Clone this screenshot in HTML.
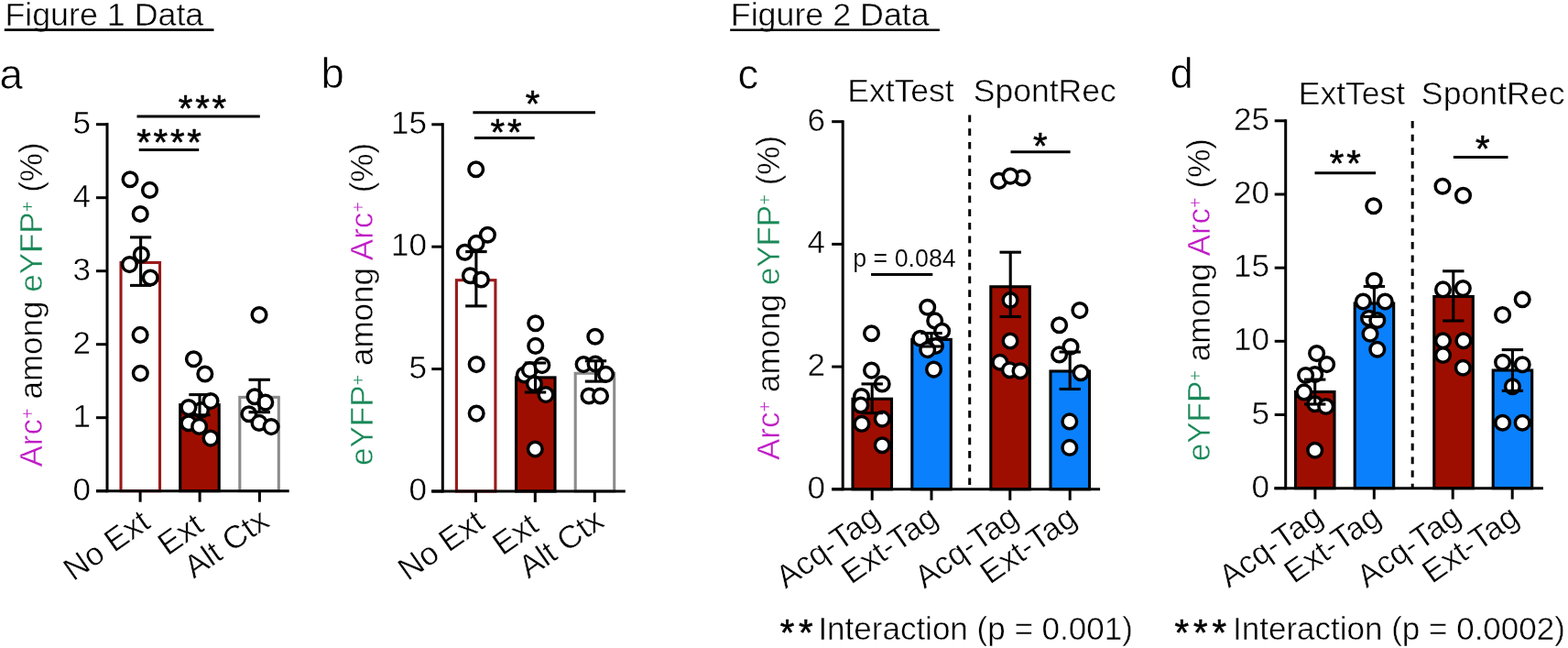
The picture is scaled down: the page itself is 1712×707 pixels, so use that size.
<!DOCTYPE html>
<html><head><meta charset="utf-8"><title>Figure data</title>
<style>
html,body{margin:0;padding:0;background:#fff;}
body{width:1712px;height:707px;overflow:hidden;}
svg{display:block;font-family:'Liberation Sans', Arial, Helvetica, sans-serif;}
text.t{stroke:#fff;stroke-width:0.45px;}
text.t2{stroke:#fff;stroke-width:0.6px;}
text.t3{stroke:#fff;stroke-width:0.15px;}
</style></head><body>
<svg width="1712" height="707" viewBox="0 0 1712 707">
<rect width="1712" height="707" fill="#fff"/>
<text class="t" x="5.4" y="28.3" font-size="35.8" text-anchor="start" fill="#000" >Figure 1 Data</text>
<line x1="4.8" y1="32.6" x2="233.5" y2="32.6" stroke="#000" stroke-width="2.6" />
<text class="t" x="797.8" y="28.3" font-size="35.8" text-anchor="start" fill="#000" >Figure 2 Data</text>
<line x1="797.2" y1="32.7" x2="1025.9" y2="32.7" stroke="#000" stroke-width="2.6" />
<text class="t2" x="-0.4" y="96.8" font-size="45.5" text-anchor="start" fill="#000" >a</text>
<text class="t2" x="350.5" y="96.2" font-size="45.5" text-anchor="start" fill="#000" >b</text>
<text class="t2" x="805.4" y="96.5" font-size="45.5" text-anchor="start" fill="#000" >c</text>
<text class="t2" x="1277.6" y="96.4" font-size="45.5" text-anchor="start" fill="#000" >d</text>
<line x1="117.0" y1="134.0" x2="117.0" y2="537.2" stroke="#000" stroke-width="3" />
<line x1="105.0" y1="535.7" x2="117.0" y2="535.7" stroke="#000" stroke-width="3" />
<text class="t" x="99.0" y="545.7" font-size="35" text-anchor="end" fill="#000" >0</text>
<line x1="105.0" y1="455.7" x2="117.0" y2="455.7" stroke="#000" stroke-width="3" />
<text class="t" x="99.0" y="465.7" font-size="35" text-anchor="end" fill="#000" >1</text>
<line x1="105.0" y1="375.7" x2="117.0" y2="375.7" stroke="#000" stroke-width="3" />
<text class="t" x="99.0" y="385.7" font-size="35" text-anchor="end" fill="#000" >2</text>
<line x1="105.0" y1="295.7" x2="117.0" y2="295.7" stroke="#000" stroke-width="3" />
<text class="t" x="99.0" y="305.7" font-size="35" text-anchor="end" fill="#000" >3</text>
<line x1="105.0" y1="215.7" x2="117.0" y2="215.7" stroke="#000" stroke-width="3" />
<text class="t" x="99.0" y="225.7" font-size="35" text-anchor="end" fill="#000" >4</text>
<line x1="105.0" y1="135.7" x2="117.0" y2="135.7" stroke="#000" stroke-width="3" />
<text class="t" x="99.0" y="145.7" font-size="35" text-anchor="end" fill="#000" >5</text>
<rect x="132.0" y="286.5" width="42.5" height="249.2" fill="#fff" stroke="#9a1a1a" stroke-width="3.1"/>
<rect x="196.7" y="441.7" width="42.5" height="94.0" fill="#9e0e00" stroke="#000" stroke-width="3.1"/>
<rect x="261.8" y="433.4" width="42.5" height="102.3" fill="#fff" stroke="#8c8c8c" stroke-width="3.1"/>
<line x1="105.0" y1="535.7" x2="315.7" y2="535.7" stroke="#000" stroke-width="3" />
<line x1="153.1" y1="535.7" x2="153.1" y2="547.7" stroke="#000" stroke-width="3" />
<line x1="218.1" y1="535.7" x2="218.1" y2="547.7" stroke="#000" stroke-width="3" />
<line x1="283.4" y1="535.7" x2="283.4" y2="547.7" stroke="#000" stroke-width="3" />
<circle cx="142.0" cy="195.8" r="7.8" fill="#fff" stroke="#000" stroke-width="3.5"/>
<circle cx="163.5" cy="207.4" r="7.8" fill="#fff" stroke="#000" stroke-width="3.5"/>
<circle cx="153.2" cy="233.5" r="7.8" fill="#fff" stroke="#000" stroke-width="3.5"/>
<circle cx="154.3" cy="277.7" r="7.8" fill="#fff" stroke="#000" stroke-width="3.5"/>
<circle cx="141.4" cy="288.6" r="7.8" fill="#fff" stroke="#000" stroke-width="3.5"/>
<circle cx="164.2" cy="303" r="7.8" fill="#fff" stroke="#000" stroke-width="3.5"/>
<circle cx="153.1" cy="365.4" r="7.8" fill="#fff" stroke="#000" stroke-width="3.5"/>
<circle cx="153.3" cy="407.2" r="7.8" fill="#fff" stroke="#000" stroke-width="3.5"/>
<circle cx="219.5" cy="447.5" r="7.8" fill="#fff" stroke="#000" stroke-width="3.5"/>
<circle cx="211.4" cy="391.7" r="7.8" fill="#fff" stroke="#000" stroke-width="3.5"/>
<circle cx="223.8" cy="408" r="7.8" fill="#fff" stroke="#000" stroke-width="3.5"/>
<circle cx="230" cy="437.6" r="7.8" fill="#fff" stroke="#000" stroke-width="3.5"/>
<circle cx="205.9" cy="444.6" r="7.8" fill="#fff" stroke="#000" stroke-width="3.5"/>
<circle cx="205.9" cy="461.8" r="7.8" fill="#fff" stroke="#000" stroke-width="3.5"/>
<circle cx="217.6" cy="465.4" r="7.8" fill="#fff" stroke="#000" stroke-width="3.5"/>
<circle cx="230" cy="478.1" r="7.8" fill="#fff" stroke="#000" stroke-width="3.5"/>
<circle cx="283" cy="343.6" r="7.8" fill="#fff" stroke="#000" stroke-width="3.5"/>
<circle cx="278.1" cy="432.8" r="7.8" fill="#fff" stroke="#000" stroke-width="3.5"/>
<circle cx="289.8" cy="439.1" r="7.8" fill="#fff" stroke="#000" stroke-width="3.5"/>
<circle cx="271.8" cy="451.8" r="7.8" fill="#fff" stroke="#000" stroke-width="3.5"/>
<circle cx="283" cy="461.4" r="7.8" fill="#fff" stroke="#000" stroke-width="3.5"/>
<circle cx="296.1" cy="465.6" r="7.8" fill="#fff" stroke="#000" stroke-width="3.5"/>
<line x1="153.6" y1="258.9" x2="153.6" y2="311.4" stroke="#000" stroke-width="3.1" />
<line x1="142.0" y1="258.9" x2="165.2" y2="258.9" stroke="#000" stroke-width="3.1" />
<line x1="142.0" y1="311.4" x2="165.2" y2="311.4" stroke="#000" stroke-width="3.1" />
<line x1="218.0" y1="430.6" x2="218.0" y2="452.8" stroke="#000" stroke-width="3.1" />
<line x1="206.3" y1="430.6" x2="229.7" y2="430.6" stroke="#000" stroke-width="3.1" />
<line x1="206.3" y1="452.8" x2="229.7" y2="452.8" stroke="#000" stroke-width="3.1" />
<line x1="283.2" y1="414.3" x2="283.2" y2="449.7" stroke="#000" stroke-width="3.1" />
<line x1="271.5" y1="414.3" x2="294.9" y2="414.3" stroke="#000" stroke-width="3.1" />
<line x1="271.5" y1="449.7" x2="294.9" y2="449.7" stroke="#000" stroke-width="3.1" />
<line x1="149.5" y1="127.0" x2="283.8" y2="127.0" stroke="#000" stroke-width="3" />
<text x="222.4" y="132.1" font-size="40" text-anchor="middle" letter-spacing="2.8" stroke="#000" stroke-width="0.6" stroke-linejoin="round">***</text>
<line x1="151.7" y1="163.4" x2="217.2" y2="163.4" stroke="#000" stroke-width="3" />
<text x="185.9" y="169.2" font-size="40" text-anchor="middle" letter-spacing="2.8" stroke="#000" stroke-width="0.6" stroke-linejoin="round">****</text>
<text class="t" transform="translate(46.4,509.5) rotate(-90)" font-size="35"><tspan fill="#bf1cc6">Arc</tspan><tspan fill="#bf1cc6" font-size="20" dy="-9.3">+</tspan><tspan dy="9.3"> </tspan><tspan fill="#000">among </tspan><tspan fill="#1a8858">eYFP</tspan><tspan fill="#1a8858" font-size="20" dy="-9.3">+</tspan><tspan dy="9.3"> </tspan><tspan fill="#000">(%)</tspan></text>
<text class="t" transform="translate(166,574.5) rotate(-35)" font-size="35" text-anchor="end">No Ext</text>
<text class="t" transform="translate(224.5,578) rotate(-35)" font-size="35" text-anchor="end">Ext</text>
<text class="t" transform="translate(296,573) rotate(-35)" font-size="35" text-anchor="end">Alt Ctx</text>
<line x1="483.3" y1="134.3" x2="483.3" y2="537.5" stroke="#000" stroke-width="3" />
<line x1="471.3" y1="536.0" x2="483.3" y2="536.0" stroke="#000" stroke-width="3" />
<text class="t" x="466.0" y="546.0" font-size="35" text-anchor="end" fill="#000" >0</text>
<line x1="471.3" y1="402.6" x2="483.3" y2="402.6" stroke="#000" stroke-width="3" />
<text class="t" x="466.0" y="412.6" font-size="35" text-anchor="end" fill="#000" >5</text>
<line x1="471.3" y1="269.2" x2="483.3" y2="269.2" stroke="#000" stroke-width="3" />
<text class="t" x="466.0" y="279.2" font-size="35" text-anchor="end" fill="#000" >10</text>
<line x1="471.3" y1="135.8" x2="483.3" y2="135.8" stroke="#000" stroke-width="3" />
<text class="t" x="466.0" y="145.8" font-size="35" text-anchor="end" fill="#000" >15</text>
<rect x="498.4" y="305.7" width="42.5" height="230.3" fill="#fff" stroke="#9a1a1a" stroke-width="3.1"/>
<rect x="563.5" y="411.9" width="42.5" height="124.1" fill="#9e0e00" stroke="#000" stroke-width="3.1"/>
<rect x="628.2" y="407.3" width="42.5" height="128.7" fill="#fff" stroke="#8c8c8c" stroke-width="3.1"/>
<line x1="471.1" y1="536.0" x2="682.8" y2="536.0" stroke="#000" stroke-width="3" />
<line x1="519.5" y1="536.0" x2="519.5" y2="548.0" stroke="#000" stroke-width="3" />
<line x1="584.3" y1="536.0" x2="584.3" y2="548.0" stroke="#000" stroke-width="3" />
<line x1="649.3" y1="536.0" x2="649.3" y2="548.0" stroke="#000" stroke-width="3" />
<circle cx="519.7" cy="184.8" r="7.8" fill="#fff" stroke="#000" stroke-width="3.5"/>
<circle cx="532.4" cy="256.2" r="7.8" fill="#fff" stroke="#000" stroke-width="3.5"/>
<circle cx="520.1" cy="265.4" r="7.8" fill="#fff" stroke="#000" stroke-width="3.5"/>
<circle cx="507.4" cy="275.3" r="7.8" fill="#fff" stroke="#000" stroke-width="3.5"/>
<circle cx="513.4" cy="300.7" r="7.8" fill="#fff" stroke="#000" stroke-width="3.5"/>
<circle cx="525.4" cy="305" r="7.8" fill="#fff" stroke="#000" stroke-width="3.5"/>
<circle cx="520.2" cy="397.6" r="7.8" fill="#fff" stroke="#000" stroke-width="3.5"/>
<circle cx="520.2" cy="451.1" r="7.8" fill="#fff" stroke="#000" stroke-width="3.5"/>
<circle cx="584.7" cy="352.7" r="7.8" fill="#fff" stroke="#000" stroke-width="3.5"/>
<circle cx="584.7" cy="377.4" r="7.8" fill="#fff" stroke="#000" stroke-width="3.5"/>
<circle cx="572.3" cy="409" r="7.8" fill="#fff" stroke="#000" stroke-width="3.5"/>
<circle cx="578.4" cy="403.6" r="7.8" fill="#fff" stroke="#000" stroke-width="3.5"/>
<circle cx="591.8" cy="398.6" r="7.8" fill="#fff" stroke="#000" stroke-width="3.5"/>
<circle cx="583.4" cy="418.8" r="7.8" fill="#fff" stroke="#000" stroke-width="3.5"/>
<circle cx="596" cy="430.6" r="7.8" fill="#fff" stroke="#000" stroke-width="3.5"/>
<circle cx="584.3" cy="490" r="7.8" fill="#fff" stroke="#000" stroke-width="3.5"/>
<circle cx="649.8" cy="367.3" r="7.8" fill="#fff" stroke="#000" stroke-width="3.5"/>
<circle cx="637.1" cy="397.6" r="7.8" fill="#fff" stroke="#000" stroke-width="3.5"/>
<circle cx="650" cy="397" r="7.8" fill="#fff" stroke="#000" stroke-width="3.5"/>
<circle cx="661.5" cy="408.4" r="7.8" fill="#fff" stroke="#000" stroke-width="3.5"/>
<circle cx="643" cy="432" r="7.8" fill="#fff" stroke="#000" stroke-width="3.5"/>
<circle cx="655.5" cy="432" r="7.8" fill="#fff" stroke="#000" stroke-width="3.5"/>
<line x1="519.9" y1="274.6" x2="519.9" y2="333.9" stroke="#000" stroke-width="3.1" />
<line x1="508.2" y1="274.6" x2="531.6" y2="274.6" stroke="#000" stroke-width="3.1" />
<line x1="508.2" y1="333.9" x2="531.6" y2="333.9" stroke="#000" stroke-width="3.1" />
<line x1="584.5" y1="396.0" x2="584.5" y2="428.0" stroke="#000" stroke-width="3.1" />
<line x1="572.8" y1="396.0" x2="596.2" y2="396.0" stroke="#000" stroke-width="3.1" />
<line x1="572.8" y1="428.0" x2="596.2" y2="428.0" stroke="#000" stroke-width="3.1" />
<line x1="650.5" y1="393.8" x2="650.5" y2="416.1" stroke="#000" stroke-width="3.1" />
<line x1="638.8" y1="393.8" x2="662.2" y2="393.8" stroke="#000" stroke-width="3.1" />
<line x1="638.8" y1="416.1" x2="662.2" y2="416.1" stroke="#000" stroke-width="3.1" />
<line x1="516.4" y1="122.7" x2="650.0" y2="122.7" stroke="#000" stroke-width="3" />
<text x="582.9" y="127.0" font-size="40" text-anchor="middle" letter-spacing="2.8" stroke="#000" stroke-width="0.6" stroke-linejoin="round">*</text>
<line x1="517.9" y1="150.4" x2="583.7" y2="150.4" stroke="#000" stroke-width="3" />
<text x="553.9" y="158.4" font-size="40" text-anchor="middle" letter-spacing="2.8" stroke="#000" stroke-width="0.6" stroke-linejoin="round">**</text>
<text class="t" transform="translate(406.9,508.0) rotate(-90)" font-size="35"><tspan fill="#1a8858">eYFP</tspan><tspan fill="#1a8858" font-size="20" dy="-9.3">+</tspan><tspan dy="9.3"> </tspan><tspan fill="#000">among </tspan><tspan fill="#bf1cc6">Arc</tspan><tspan fill="#bf1cc6" font-size="20" dy="-9.3">+</tspan><tspan dy="9.3"> </tspan><tspan fill="#000">(%)</tspan></text>
<text class="t" transform="translate(531.3,574.3) rotate(-35)" font-size="35" text-anchor="end">No Ext</text>
<text class="t" transform="translate(590,578) rotate(-35)" font-size="35" text-anchor="end">Ext</text>
<text class="t" transform="translate(661.5,573) rotate(-35)" font-size="35" text-anchor="end">Alt Ctx</text>
<line x1="920.2" y1="131.2" x2="920.2" y2="535.3" stroke="#000" stroke-width="3" />
<line x1="908.2" y1="533.8" x2="920.2" y2="533.8" stroke="#000" stroke-width="3" />
<text class="t" x="901.0" y="543.8" font-size="35" text-anchor="end" fill="#000" >0</text>
<line x1="908.2" y1="400.1" x2="920.2" y2="400.1" stroke="#000" stroke-width="3" />
<text class="t" x="901.0" y="410.1" font-size="35" text-anchor="end" fill="#000" >2</text>
<line x1="908.2" y1="266.4" x2="920.2" y2="266.4" stroke="#000" stroke-width="3" />
<text class="t" x="901.0" y="276.4" font-size="35" text-anchor="end" fill="#000" >4</text>
<line x1="908.2" y1="132.7" x2="920.2" y2="132.7" stroke="#000" stroke-width="3" />
<text class="t" x="901.0" y="142.7" font-size="35" text-anchor="end" fill="#000" >6</text>
<rect x="931.0" y="435.2" width="42.5" height="98.6" fill="#9e0e00" stroke="#000" stroke-width="3.1"/>
<rect x="995.8" y="370.4" width="42.5" height="163.4" fill="#0a80fc" stroke="#000" stroke-width="3.1"/>
<rect x="1081.8" y="312.8" width="42.5" height="221.0" fill="#9e0e00" stroke="#000" stroke-width="3.1"/>
<rect x="1147.0" y="405.0" width="42.5" height="128.8" fill="#0a80fc" stroke="#000" stroke-width="3.1"/>
<line x1="908.1" y1="533.8" x2="1201.1" y2="533.8" stroke="#000" stroke-width="3" />
<line x1="952.2" y1="533.8" x2="952.2" y2="545.8" stroke="#000" stroke-width="3" />
<line x1="1017.0" y1="533.8" x2="1017.0" y2="545.8" stroke="#000" stroke-width="3" />
<line x1="1102.8" y1="533.8" x2="1102.8" y2="545.8" stroke="#000" stroke-width="3" />
<line x1="1168.2" y1="533.8" x2="1168.2" y2="545.8" stroke="#000" stroke-width="3" />
<line x1="1058.7" y1="125.6" x2="1058.7" y2="529.5" stroke="#000" stroke-width="3" stroke-dasharray="7.7,6.96"/>
<circle cx="951.5" cy="363.8" r="7.8" fill="#fff" stroke="#000" stroke-width="3.5"/>
<circle cx="951.5" cy="404.1" r="7.8" fill="#fff" stroke="#000" stroke-width="3.5"/>
<circle cx="963.2" cy="418.9" r="7.8" fill="#fff" stroke="#000" stroke-width="3.5"/>
<circle cx="940.5" cy="432.5" r="7.8" fill="#fff" stroke="#000" stroke-width="3.5"/>
<circle cx="939.8" cy="442" r="7.8" fill="#fff" stroke="#000" stroke-width="3.5"/>
<circle cx="940.9" cy="462.4" r="7.8" fill="#fff" stroke="#000" stroke-width="3.5"/>
<circle cx="963.2" cy="457.1" r="7.8" fill="#fff" stroke="#000" stroke-width="3.5"/>
<circle cx="963.2" cy="485.7" r="7.8" fill="#fff" stroke="#000" stroke-width="3.5"/>
<circle cx="1012.7" cy="335.2" r="7.8" fill="#fff" stroke="#000" stroke-width="3.5"/>
<circle cx="1020.7" cy="349.9" r="7.8" fill="#fff" stroke="#000" stroke-width="3.5"/>
<circle cx="1028.6" cy="361.3" r="7.8" fill="#fff" stroke="#000" stroke-width="3.5"/>
<circle cx="1004.8" cy="369.2" r="7.8" fill="#fff" stroke="#000" stroke-width="3.5"/>
<circle cx="1021.5" cy="377.5" r="7.8" fill="#fff" stroke="#000" stroke-width="3.5"/>
<circle cx="1012.7" cy="381.6" r="7.8" fill="#fff" stroke="#000" stroke-width="3.5"/>
<circle cx="1019.5" cy="403.1" r="7.8" fill="#fff" stroke="#000" stroke-width="3.5"/>
<circle cx="1090.6" cy="197.4" r="7.8" fill="#fff" stroke="#000" stroke-width="3.5"/>
<circle cx="1116.1" cy="194" r="7.8" fill="#fff" stroke="#000" stroke-width="3.5"/>
<circle cx="1103.1" cy="192.1" r="7.8" fill="#fff" stroke="#000" stroke-width="3.5"/>
<circle cx="1103" cy="327.5" r="7.8" fill="#fff" stroke="#000" stroke-width="3.5"/>
<circle cx="1103" cy="372" r="7.8" fill="#fff" stroke="#000" stroke-width="3.5"/>
<circle cx="1091.8" cy="395.3" r="7.8" fill="#fff" stroke="#000" stroke-width="3.5"/>
<circle cx="1102.4" cy="403.8" r="7.8" fill="#fff" stroke="#000" stroke-width="3.5"/>
<circle cx="1114" cy="404.8" r="7.8" fill="#fff" stroke="#000" stroke-width="3.5"/>
<circle cx="1178.9" cy="338.6" r="7.8" fill="#fff" stroke="#000" stroke-width="3.5"/>
<circle cx="1156.6" cy="354.7" r="7.8" fill="#fff" stroke="#000" stroke-width="3.5"/>
<circle cx="1169" cy="378.2" r="7.8" fill="#fff" stroke="#000" stroke-width="3.5"/>
<circle cx="1156.6" cy="386.9" r="7.8" fill="#fff" stroke="#000" stroke-width="3.5"/>
<circle cx="1180.1" cy="406.7" r="7.8" fill="#fff" stroke="#000" stroke-width="3.5"/>
<circle cx="1167.8" cy="459.9" r="7.8" fill="#fff" stroke="#000" stroke-width="3.5"/>
<circle cx="1167.8" cy="488.4" r="7.8" fill="#fff" stroke="#000" stroke-width="3.5"/>
<line x1="952.2" y1="418.9" x2="952.2" y2="450.7" stroke="#000" stroke-width="3.1" />
<line x1="940.5" y1="418.9" x2="963.9" y2="418.9" stroke="#000" stroke-width="3.1" />
<line x1="940.5" y1="450.7" x2="963.9" y2="450.7" stroke="#000" stroke-width="3.1" />
<line x1="1017.0" y1="363.5" x2="1017.0" y2="378.0" stroke="#000" stroke-width="3.1" />
<line x1="1005.3" y1="363.5" x2="1028.7" y2="363.5" stroke="#000" stroke-width="3.1" />
<line x1="1005.3" y1="378.0" x2="1028.7" y2="378.0" stroke="#000" stroke-width="3.1" />
<line x1="1103.2" y1="275.2" x2="1103.2" y2="345.5" stroke="#000" stroke-width="3.1" />
<line x1="1091.5" y1="275.2" x2="1114.9" y2="275.2" stroke="#000" stroke-width="3.1" />
<line x1="1091.5" y1="345.5" x2="1114.9" y2="345.5" stroke="#000" stroke-width="3.1" />
<line x1="1168.2" y1="384.0" x2="1168.2" y2="424.5" stroke="#000" stroke-width="3.1" />
<line x1="1156.5" y1="384.0" x2="1179.9" y2="384.0" stroke="#000" stroke-width="3.1" />
<line x1="1156.5" y1="424.5" x2="1179.9" y2="424.5" stroke="#000" stroke-width="3.1" />
<line x1="951.1" y1="299.6" x2="1018.3" y2="299.6" stroke="#000" stroke-width="3" />
<text class="t3" x="931.2" y="290.8" font-size="26.8" text-anchor="start" fill="#000" >p = 0.084</text>
<line x1="1103.5" y1="165.8" x2="1168.6" y2="165.8" stroke="#000" stroke-width="3" />
<text x="1137.1" y="172.9" font-size="40" text-anchor="middle" letter-spacing="2.8" stroke="#000" stroke-width="0.6" stroke-linejoin="round">*</text>
<text class="t" x="983.5" y="110.9" font-size="35.5" text-anchor="middle" fill="#000" >ExtTest</text>
<text class="t" x="1140.8" y="110.9" font-size="35.5" text-anchor="middle" fill="#000" >SpontRec</text>
<text class="t" transform="translate(851.3,502) rotate(-90)" font-size="35"><tspan fill="#bf1cc6">Arc</tspan><tspan fill="#bf1cc6" font-size="20" dy="-9.3">+</tspan><tspan dy="9.3"> </tspan><tspan fill="#000">among </tspan><tspan fill="#1a8858">eYFP</tspan><tspan fill="#1a8858" font-size="20" dy="-9.3">+</tspan><tspan dy="9.3"> </tspan><tspan fill="#000">(%)</tspan></text>
<text class="t" transform="translate(963,569.4) rotate(-35)" font-size="35" text-anchor="end">Acq-Tag</text>
<text class="t" transform="translate(1026.5,570.1) rotate(-35)" font-size="35" text-anchor="end">Ext-Tag</text>
<text class="t" transform="translate(1114.5,569.4) rotate(-35)" font-size="35" text-anchor="end">Acq-Tag</text>
<text class="t" transform="translate(1178,570.1) rotate(-35)" font-size="35" text-anchor="end">Ext-Tag</text>
<text x="871.9" y="704.4" font-size="40" text-anchor="middle" letter-spacing="4.7" stroke="#000" stroke-width="0.6" stroke-linejoin="round">**</text>
<text class="t" x="893.4" y="697.9" font-size="35" text-anchor="start" fill="#000" >Interaction (p = 0.001)</text>
<line x1="1403.7" y1="130.3" x2="1403.7" y2="534.2" stroke="#000" stroke-width="3" />
<line x1="1391.7" y1="532.7" x2="1403.7" y2="532.7" stroke="#000" stroke-width="3" />
<text class="t" x="1386.0" y="542.7" font-size="35" text-anchor="end" fill="#000" >0</text>
<line x1="1391.7" y1="452.5" x2="1403.7" y2="452.5" stroke="#000" stroke-width="3" />
<text class="t" x="1386.0" y="462.5" font-size="35" text-anchor="end" fill="#000" >5</text>
<line x1="1391.7" y1="372.3" x2="1403.7" y2="372.3" stroke="#000" stroke-width="3" />
<text class="t" x="1386.0" y="382.3" font-size="35" text-anchor="end" fill="#000" >10</text>
<line x1="1391.7" y1="292.2" x2="1403.7" y2="292.2" stroke="#000" stroke-width="3" />
<text class="t" x="1386.0" y="302.2" font-size="35" text-anchor="end" fill="#000" >15</text>
<line x1="1391.7" y1="212.0" x2="1403.7" y2="212.0" stroke="#000" stroke-width="3" />
<text class="t" x="1386.0" y="222.0" font-size="35" text-anchor="end" fill="#000" >20</text>
<line x1="1391.7" y1="131.8" x2="1403.7" y2="131.8" stroke="#000" stroke-width="3" />
<text class="t" x="1386.0" y="141.8" font-size="35" text-anchor="end" fill="#000" >25</text>
<rect x="1414.5" y="427.5" width="42.5" height="105.2" fill="#9e0e00" stroke="#000" stroke-width="3.1"/>
<rect x="1479.2" y="331.0" width="42.5" height="201.7" fill="#0a80fc" stroke="#000" stroke-width="3.1"/>
<rect x="1565.8" y="323.5" width="42.5" height="209.2" fill="#9e0e00" stroke="#000" stroke-width="3.1"/>
<rect x="1630.2" y="404.0" width="42.5" height="128.7" fill="#0a80fc" stroke="#000" stroke-width="3.1"/>
<line x1="1391.3" y1="532.7" x2="1684.9" y2="532.7" stroke="#000" stroke-width="3" />
<line x1="1435.9" y1="532.7" x2="1435.9" y2="544.7" stroke="#000" stroke-width="3" />
<line x1="1500.3" y1="532.7" x2="1500.3" y2="544.7" stroke="#000" stroke-width="3" />
<line x1="1586.2" y1="532.7" x2="1586.2" y2="544.7" stroke="#000" stroke-width="3" />
<line x1="1651.2" y1="532.7" x2="1651.2" y2="544.7" stroke="#000" stroke-width="3" />
<line x1="1542.2" y1="132" x2="1542.2" y2="533" stroke="#000" stroke-width="3" stroke-dasharray="7.7,6.96"/>
<circle cx="1437.6" cy="385.6" r="7.8" fill="#fff" stroke="#000" stroke-width="3.5"/>
<circle cx="1448.6" cy="397.6" r="7.8" fill="#fff" stroke="#000" stroke-width="3.5"/>
<circle cx="1435.7" cy="408.6" r="7.8" fill="#fff" stroke="#000" stroke-width="3.5"/>
<circle cx="1425.6" cy="409.5" r="7.8" fill="#fff" stroke="#000" stroke-width="3.5"/>
<circle cx="1423.8" cy="427.9" r="7.8" fill="#fff" stroke="#000" stroke-width="3.5"/>
<circle cx="1435.7" cy="440.8" r="7.8" fill="#fff" stroke="#000" stroke-width="3.5"/>
<circle cx="1447.7" cy="443.5" r="7.8" fill="#fff" stroke="#000" stroke-width="3.5"/>
<circle cx="1435.7" cy="491.3" r="7.8" fill="#fff" stroke="#000" stroke-width="3.5"/>
<circle cx="1499.7" cy="224.8" r="7.8" fill="#fff" stroke="#000" stroke-width="3.5"/>
<circle cx="1500.3" cy="306.3" r="7.8" fill="#fff" stroke="#000" stroke-width="3.5"/>
<circle cx="1488.3" cy="329" r="7.8" fill="#fff" stroke="#000" stroke-width="3.5"/>
<circle cx="1512.3" cy="329" r="7.8" fill="#fff" stroke="#000" stroke-width="3.5"/>
<circle cx="1494.6" cy="347.3" r="7.8" fill="#fff" stroke="#000" stroke-width="3.5"/>
<circle cx="1503.8" cy="349.5" r="7.8" fill="#fff" stroke="#000" stroke-width="3.5"/>
<circle cx="1496" cy="364.3" r="7.8" fill="#fff" stroke="#000" stroke-width="3.5"/>
<circle cx="1503.8" cy="381.3" r="7.8" fill="#fff" stroke="#000" stroke-width="3.5"/>
<circle cx="1575" cy="203.2" r="7.8" fill="#fff" stroke="#000" stroke-width="3.5"/>
<circle cx="1597.5" cy="213.3" r="7.8" fill="#fff" stroke="#000" stroke-width="3.5"/>
<circle cx="1575.5" cy="315.9" r="7.8" fill="#fff" stroke="#000" stroke-width="3.5"/>
<circle cx="1597.3" cy="314.6" r="7.8" fill="#fff" stroke="#000" stroke-width="3.5"/>
<circle cx="1575.5" cy="371.8" r="7.8" fill="#fff" stroke="#000" stroke-width="3.5"/>
<circle cx="1597.9" cy="371.8" r="7.8" fill="#fff" stroke="#000" stroke-width="3.5"/>
<circle cx="1575.5" cy="387.5" r="7.8" fill="#fff" stroke="#000" stroke-width="3.5"/>
<circle cx="1597.3" cy="401.2" r="7.8" fill="#fff" stroke="#000" stroke-width="3.5"/>
<circle cx="1662.2" cy="326.8" r="7.8" fill="#fff" stroke="#000" stroke-width="3.5"/>
<circle cx="1640.6" cy="343.6" r="7.8" fill="#fff" stroke="#000" stroke-width="3.5"/>
<circle cx="1640.6" cy="395.3" r="7.8" fill="#fff" stroke="#000" stroke-width="3.5"/>
<circle cx="1662.2" cy="397.7" r="7.8" fill="#fff" stroke="#000" stroke-width="3.5"/>
<circle cx="1651.4" cy="421.7" r="7.8" fill="#fff" stroke="#000" stroke-width="3.5"/>
<circle cx="1640.6" cy="461.3" r="7.8" fill="#fff" stroke="#000" stroke-width="3.5"/>
<circle cx="1662.2" cy="461.3" r="7.8" fill="#fff" stroke="#000" stroke-width="3.5"/>
<line x1="1435.7" y1="414.1" x2="1435.7" y2="441.0" stroke="#000" stroke-width="3.1" />
<line x1="1424.0" y1="414.1" x2="1447.4" y2="414.1" stroke="#000" stroke-width="3.1" />
<line x1="1424.0" y1="441.0" x2="1447.4" y2="441.0" stroke="#000" stroke-width="3.1" />
<line x1="1500.4" y1="312.5" x2="1500.4" y2="345.5" stroke="#000" stroke-width="3.1" />
<line x1="1488.7" y1="312.5" x2="1512.1" y2="312.5" stroke="#000" stroke-width="3.1" />
<line x1="1488.7" y1="345.5" x2="1512.1" y2="345.5" stroke="#000" stroke-width="3.1" />
<line x1="1586.8" y1="295.8" x2="1586.8" y2="350.0" stroke="#000" stroke-width="3.1" />
<line x1="1575.1" y1="295.8" x2="1598.5" y2="295.8" stroke="#000" stroke-width="3.1" />
<line x1="1575.1" y1="350.0" x2="1598.5" y2="350.0" stroke="#000" stroke-width="3.1" />
<line x1="1651.4" y1="381.6" x2="1651.4" y2="426.4" stroke="#000" stroke-width="3.1" />
<line x1="1639.7" y1="381.6" x2="1663.1" y2="381.6" stroke="#000" stroke-width="3.1" />
<line x1="1639.7" y1="426.4" x2="1663.1" y2="426.4" stroke="#000" stroke-width="3.1" />
<line x1="1435.5" y1="188.7" x2="1502.1" y2="188.7" stroke="#000" stroke-width="3" />
<text x="1470.2" y="192.2" font-size="40" text-anchor="middle" letter-spacing="2.8" stroke="#000" stroke-width="0.6" stroke-linejoin="round">**</text>
<line x1="1586.9" y1="171.5" x2="1646.5" y2="171.5" stroke="#000" stroke-width="3" />
<text x="1620.3" y="175.6" font-size="40" text-anchor="middle" letter-spacing="2.8" stroke="#000" stroke-width="0.6" stroke-linejoin="round">*</text>
<text class="t" x="1476.0" y="114.3" font-size="35.5" text-anchor="middle" fill="#000" >ExtTest</text>
<text class="t" x="1630.2" y="114.3" font-size="35.7" text-anchor="middle" fill="#000" >SpontRec</text>
<text class="t" transform="translate(1321.2,503.2) rotate(-90)" font-size="35"><tspan fill="#1a8858">eYFP</tspan><tspan fill="#1a8858" font-size="20" dy="-9.3">+</tspan><tspan dy="9.3"> </tspan><tspan fill="#000">among </tspan><tspan fill="#bf1cc6">Arc</tspan><tspan fill="#bf1cc6" font-size="20" dy="-9.3">+</tspan><tspan dy="9.3"> </tspan><tspan fill="#000">(%)</tspan></text>
<text class="t" transform="translate(1446.6,568.6) rotate(-35)" font-size="35" text-anchor="end">Acq-Tag</text>
<text class="t" transform="translate(1510,569.4) rotate(-35)" font-size="35" text-anchor="end">Ext-Tag</text>
<text class="t" transform="translate(1597.3,568.6) rotate(-35)" font-size="35" text-anchor="end">Acq-Tag</text>
<text class="t" transform="translate(1660.7,569.4) rotate(-35)" font-size="35" text-anchor="end">Ext-Tag</text>
<text x="1313.2" y="704.4" font-size="40" text-anchor="middle" letter-spacing="4.9" stroke="#000" stroke-width="0.6" stroke-linejoin="round">***</text>
<text class="t" x="1346.0" y="697.9" font-size="35" text-anchor="start" fill="#000" >Interaction (p = 0.0002)</text>
</svg>
</body></html>
